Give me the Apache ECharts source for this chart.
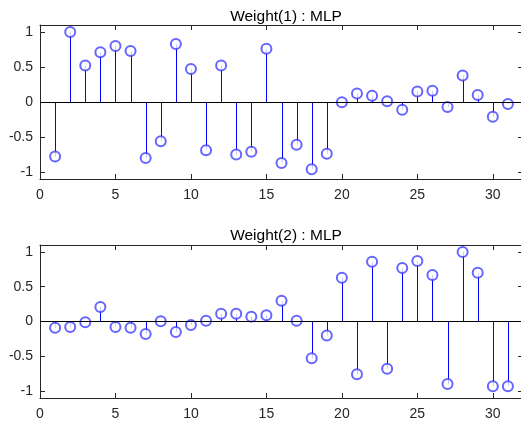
<!DOCTYPE html>
<html>
<head>
<meta charset="utf-8">
<script src="https://cdn.jsdelivr.net/npm/echarts@6/dist/echarts.min.js"></script>
<style>
  html, body { margin: 0; padding: 0; background: #fff; }
  #chart { width: 521px; height: 426px; }
</style>
</head>
<body>
<div id="chart"></div>
<script>
// stem data, index 1..31
const idx = [];
for (let i = 1; i <= 31; i++) idx.push(i);

const weight1 = [-0.78, 1.0, 0.52, 0.71, 0.80, 0.73, -0.80, -0.56, 0.83, 0.47,
  -0.69, 0.52, -0.75, -0.71, 0.76, -0.87, -0.61, -0.96, -0.74, -0.005,
  0.12, 0.09, 0.01, -0.11, 0.15, 0.16, -0.07, 0.38, 0.10, -0.21, -0.03];

const weight2 = [-0.09, -0.08, -0.01, 0.21, -0.08, -0.09, -0.18, 0.005, -0.15, -0.05,
  0.01, 0.11, 0.11, 0.07, 0.09, 0.30, 0.01, -0.53, -0.20, 0.63,
  -0.76, 0.86, -0.68, 0.77, 0.87, 0.67, -0.90, 1.0, 0.70, -0.93, -0.93];

const titles = ['Weight(1) : MLP', 'Weight(2) : MLP'];
const yTicks = [-1, -0.5, 0, 0.5, 1];

const font = 'Liberation Sans';
const axisColor = '#262626';
const blue = '#0000ff';

let chart = echarts.init(document.getElementById('chart'));

// right border sits just past the window edge, like the cropped original
let grids = [
  { left: 40, width: 483, top: 25, height: 154, outerBoundsMode: 'none', containLabel: false },
  { left: 40, width: 483, top: 245, height: 153, outerBoundsMode: 'none', containLabel: false }
];

function xAxes(g) {
  let base = {
    type: 'value', gridIndex: g, min: 0, max: 32, interval: 5,
    axisLine: { show: true, onZero: false, lineStyle: { color: axisColor, width: 1 } },
    axisTick: { show: true, inside: true, length: 5, lineStyle: { color: axisColor } },
    splitLine: { show: false }
  };
  return [
    Object.assign({}, base, {
      position: 'bottom',
      axisLabel: {
        color: axisColor, fontFamily: font, fontSize: 14, margin: 9,
        formatter: v => (v % 5 === 0 ? String(v) : '')
      }
    }),
    Object.assign({}, base, { position: 'top', axisLabel: { show: false } })
  ];
}

function yAxes(g) {
  let base = {
    type: 'value', gridIndex: g, min: -1.1, max: 1.1,
    axisLine: { show: true, onZero: false, lineStyle: { color: axisColor, width: 1 } },
    axisTick: { show: true, inside: true, length: 5, lineStyle: { color: axisColor },
      customValues: yTicks },
    splitLine: { show: false }
  };
  return [
    Object.assign({}, base, {
      position: 'left',
      axisLabel: {
        color: axisColor, fontFamily: font, fontSize: 14, margin: 7,
        customValues: yTicks, formatter: v => String(v)
      }
    }),
    Object.assign({}, base, { position: 'right', axisLabel: { show: false } })
  ];
}

function stems(values, g) {
  let data = idx.map((x, i) => [x, values[i]]);
  return [
    {
      type: 'custom',
      xAxisIndex: g * 2, yAxisIndex: g * 2,
      data: data,
      renderItem: function (params, api) {
        let p0 = api.coord([api.value(0), 0]);
        let p1 = api.coord([api.value(0), api.value(1)]);
        let x = Math.round(p0[0]) + 0.5;
        return {
          type: 'line',
          shape: { x1: x, y1: p0[1], x2: x, y2: p1[1] },
          style: { stroke: blue, lineWidth: 1 }
        };
      },
      markLine: {
        silent: true, symbol: 'none', label: { show: false },
        lineStyle: { color: '#000', width: 1, type: 'solid' },
        data: [{ yAxis: 0 }]
      },
      z: 2
    },
    {
      type: 'scatter',
      xAxisIndex: g * 2, yAxisIndex: g * 2,
      data: data,
      symbol: 'emptyCircle',
      symbolSize: 10,
      itemStyle: { color: '#3f3fff', borderColor: '#3f3fff', borderWidth: 1 },
      z: 3
    }
  ];
}

let option = {
  animation: false,
  textStyle: { fontFamily: font },
  title: titles.map((t, i) => ({
    text: t,
    left: 281, textAlign: 'center',
    top: i === 0 ? 4 : 223,
    textStyle: { fontFamily: font, fontSize: 15.5, fontWeight: 'normal', color: '#000' }
  })),
  grid: grids,
  xAxis: xAxes(0).concat(xAxes(1)),
  yAxis: yAxes(0).concat(yAxes(1)),
  series: stems(weight1, 0).concat(stems(weight2, 1))
};

chart.setOption(option);

window.addEventListener('resize', function () {
  chart.resize();
});
</script>
</body>
</html>
